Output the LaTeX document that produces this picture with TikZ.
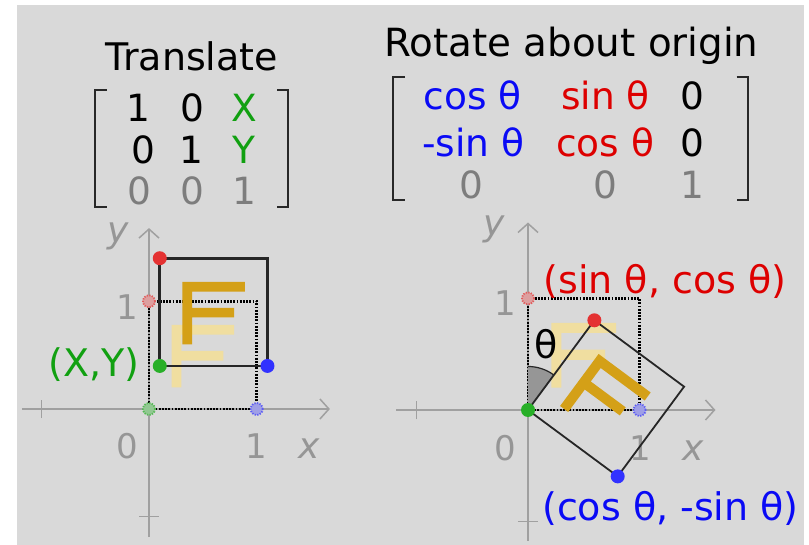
\documentclass[tikz,border=0pt]{standalone}
\usepackage{fontspec}
\setmainfont{DejaVu Sans}
\usetikzlibrary{arrows.meta}
\definecolor{bg}{RGB}{217,217,217}
\definecolor{axisgray}{RGB}{160,160,160}
\definecolor{labgray}{RGB}{150,150,150}
\definecolor{mgray}{RGB}{125,125,125}
\definecolor{tgreen}{RGB}{17,160,17}
\definecolor{tblue}{RGB}{10,10,245}
\definecolor{tred}{RGB}{221,0,0}
\definecolor{fdark}{RGB}{212,160,23}
\definecolor{ffaint}{RGB}{240,222,160}
\definecolor{dred}{RGB}{228,50,50}
\definecolor{dgreen}{RGB}{40,175,40}
\definecolor{dblue}{RGB}{50,50,255}
\definecolor{brk}{RGB}{40,40,40}
\definecolor{wedgegray}{RGB}{150,150,150}
\begin{document}
\begin{tikzpicture}[x=1pt,y=-1pt,
  title/.style={font=\fontsize{38}{40}\selectfont, anchor=base, inner sep=0pt},
  entry/.style={font=\fontsize{37.5}{38}\selectfont, anchor=base, inner sep=0pt},
  lab/.style={font=\fontsize{38}{40}\selectfont, inner sep=0pt},
  axlab/.style={font=\fontsize{34}{36}\selectfont, text=labgray, anchor=base, inner sep=0pt},
  axlabit/.style={font=\fontsize{36}{36}\selectfont\itshape, text=labgray, inner sep=0pt},
  axline/.style={draw=axisgray, line width=1.5pt},
  axarrow/.style={axline, -{Straight Barb[length=9pt,width=20pt,line width=1.5pt]}},
  bracket/.style={draw=brk, line width=2pt},
  dotsq/.style={draw=black, line width=2.6pt, dash pattern=on 1.8pt off 1.4pt},
  sqline/.style={draw=black!85, line width=2.8pt},
  rotline/.style={draw=black!85, line width=1.8pt, line join=miter},
  soliddot/.style={circle, inner sep=0pt, minimum size=14pt},
  faintdot/.style={circle, inner sep=0pt, minimum size=12pt, line width=1.8pt, dash pattern=on 1.3pt off 1.3pt}
]
\useasboundingbox (0,0) rectangle (809,545);
\fill[bg] (17,5) rectangle (804,545);

% ---------- titles ----------
\node[title] (tT) at (191.7,70.7) {Translate};
\node[title, font=\fontsize{38.8}{40}\selectfont] (tR) at (571.5,56.7) {Rotate about origin};

% ---------- translate matrix ----------
\draw[bracket] (106.7,90) -- (95,90) -- (95,206.7) -- (106.7,206.7);
\draw[bracket] (277,90) -- (288,90) -- (288,206.7) -- (277,206.7);
\node[entry] (L11) at (138,121.7) {1};
\node[entry] (L12) at (192,121.7) {0};
\node[entry, text=tgreen] (L13) at (244,121.7) {X};
\node[entry] (L21) at (143,164) {0};
\node[entry] (L22) at (191.7,164) {1};
\node[entry, text=tgreen] (L23) at (244,164) {Y};
\node[entry, text=mgray] (L31) at (139,205) {0};
\node[entry, text=mgray] (L32) at (192.5,205) {0};
\node[entry, text=mgray] (L33) at (244,205) {1};

% ---------- rotate matrix ----------
\draw[bracket] (405,76.7) -- (393,76.7) -- (393,200) -- (405,200);
\draw[bracket] (736.7,76.7) -- (748,76.7) -- (748,200) -- (736.7,200);
\node[entry, text=tblue] (R11) at (472.5,110) {cos θ};
\node[entry, text=tred] (R12) at (605.5,110) {sin θ};
\node[entry] (R13) at (692.5,110) {0};
\node[entry, text=tblue] (R21) at (473.3,156.7) {-sin θ};
\node[entry, text=tred] (R22) at (605,156.7) {cos θ};
\node[entry] (R23) at (692.5,156.7) {0};
\node[entry, text=mgray] (R31) at (471.7,198.3) {0};
\node[entry, text=mgray] (R32) at (605,198.3) {0};
\node[entry, text=mgray] (R33) at (692.5,198.3) {1};

% ---------- left panel (translate) ----------
\begin{scope}[shift={(149pt,-409pt)}, x=107.7pt, y=107.7pt]
  \coordinate (LxA) at (-1.18,0); \coordinate (LxB) at (1.68,0);
  \coordinate (LyA) at (0,-1.19); \coordinate (LyB) at (0,1.68);
  \draw[axarrow] (LxA) -- (LxB);
  \draw[axarrow] (LyA) -- (LyB);
  \coordinate (LtxA) at (-1,-0.085); \coordinate (LtxB) at (-1,0.085);
  \coordinate (LtyA) at (-0.09,-1); \coordinate (LtyB) at (0.09,-1);
  \draw[axline] (LtxA) -- (LtxB);
  \draw[axline] (LtyA) -- (LtyB);
  \node[axlab] (Ly1) at (-0.2,0.83) {1};
  \node[axlab] (L0) at (-0.2,-0.455) {0};
  \node[axlab] (Lx1) at (1.0,-0.455) {1};
  \node[axlabit, anchor=base] (Lx) at (1.49,-0.455) {x};
  \node[axlabit] (Ly) at (-0.29,1.60) {y};
  % dotted unit square
  \coordinate (Lu0) at (0,0); \coordinate (Lu1) at (1,1);
  \draw[dotsq] (Lu0) rectangle (Lu1);
  % faint F
  \fill[ffaint] (0.21,0.2) -- (0.3,0.2) -- (0.3,0.45) -- (0.69,0.45) -- (0.69,0.54) -- (0.3,0.54) -- (0.3,0.69) -- (0.79,0.69) -- (0.79,0.78) -- (0.21,0.78) -- cycle;
  % faint dots
  \node[faintdot, draw=dgreen!75!bg, fill=dgreen!40!bg] (Lfg) at (0,0) {};
  \node[faintdot, draw=dblue!75!bg, fill=dblue!35!bg] (Lfb) at (1,0) {};
  \node[faintdot, draw=dred!75!bg, fill=dred!35!bg] (Lfr) at (0,1) {};
  % translated F
  \begin{scope}[shift={(0.1,0.4)}]
    \fill[fdark] (0.21,0.2) -- (0.3,0.2) -- (0.3,0.45) -- (0.69,0.45) -- (0.69,0.54) -- (0.3,0.54) -- (0.3,0.69) -- (0.79,0.69) -- (0.79,0.78) -- (0.21,0.78) -- cycle;
  \end{scope}
  % translated square
  \coordinate (Lc1) at (0.1,0.4); \coordinate (Lc2) at (1.1,1.4);
  \draw[sqline] (Lc1) rectangle (Lc2);
  \node[soliddot, fill=dred] (Ldr) at (0.1,1.4) {};
  \node[soliddot, fill=dgreen] (Ldg) at (0.1,0.4) {};
  \node[soliddot, fill=dblue] (Ldb) at (1.1,0.4) {};
\end{scope}
\node[lab, text=tgreen, anchor=east] (XY) at (140,365) {(X,Y)};

% ---------- right panel (rotate) ----------
\begin{scope}[shift={(528pt,-410pt)}, x=111.6pt, y=111.6pt]
  \coordinate (RxA) at (-1.18,0); \coordinate (RxB) at (1.68,0);
  \coordinate (RyA) at (0,-1.17); \coordinate (RyB) at (0,1.68);
  \draw[axarrow] (RxA) -- (RxB);
  \draw[axarrow] (RyA) -- (RyB);
  \coordinate (RtxA) at (-1,-0.085); \coordinate (RtxB) at (-1,0.085);
  \coordinate (RtyA) at (-0.09,-1); \coordinate (RtyB) at (0.09,-1);
  \draw[axline] (RtxA) -- (RtxB);
  \draw[axline] (RtyA) -- (RtyB);
  \node[axlab] (Ry1) at (-0.2,0.85) {1};
  \node[axlab] (R0) at (-0.2,-0.45) {0};
  \node[axlab] (Rx1) at (1.01,-0.45) {1};
  \node[axlabit, anchor=base] (Rx) at (1.48,-0.45) {x};
  \node[axlabit] (Ry) at (-0.30,1.62) {y};
  % dotted unit square
  \coordinate (Ru0) at (0,0); \coordinate (Ru1) at (1,1);
  \draw[dotsq] (Ru0) rectangle (Ru1);
  % faint F
  \fill[ffaint] (0.21,0.2) -- (0.3,0.2) -- (0.3,0.45) -- (0.69,0.45) -- (0.69,0.54) -- (0.3,0.54) -- (0.3,0.69) -- (0.79,0.69) -- (0.79,0.78) -- (0.21,0.78) -- cycle;
  % faint dots
  \node[faintdot, draw=dblue!75!bg, fill=dblue!35!bg] (Rfb) at (1,0) {};
  \node[faintdot, draw=dred!75!bg, fill=dred!35!bg] (Rfr) at (0,1) {};
  % angle wedge
  \fill[wedgegray] (0,0) -- (90:0.39) arc[start angle=90, end angle=53.5, radius=0.39] -- cycle;
  \draw[black!85, line width=1.2pt] (90:0.39) arc[start angle=90, end angle=53.5, radius=0.39];
  % rotated F
  \begin{scope}[rotate=-36.5]
    \fill[fdark] (0.21,0.2) -- (0.3,0.2) -- (0.3,0.45) -- (0.69,0.45) -- (0.69,0.54) -- (0.3,0.54) -- (0.3,0.69) -- (0.79,0.69) -- (0.79,0.78) -- (0.21,0.78) -- cycle;
    \coordinate (Rc0) at (0,0);
    \coordinate (Rc1) at (0,1);
    \coordinate (Rc2) at (1,1);
    \coordinate (Rc3) at (1,0);
  \end{scope}
  \draw[rotline] (Rc0) -- (Rc1) -- (Rc2) -- (Rc3) -- cycle;
  \node[lab, font=\fontsize{38}{40}\selectfont] (th) at (0.158,0.59) {θ};
  \node[soliddot, fill=dred] (Rdr) at (Rc1) {};
  \node[soliddot, fill=dgreen] (Rdg) at (Rc0) {};
  \node[soliddot, fill=dblue] (Rdb) at (Rc3) {};
\end{scope}
\node[lab, text=tred] (SC) at (665,281.5) {(sin θ, cos θ)};
\node[lab, text=tblue] (CS) at (670.5,508) {(cos θ, -sin θ)};
\end{tikzpicture}
\end{document}
